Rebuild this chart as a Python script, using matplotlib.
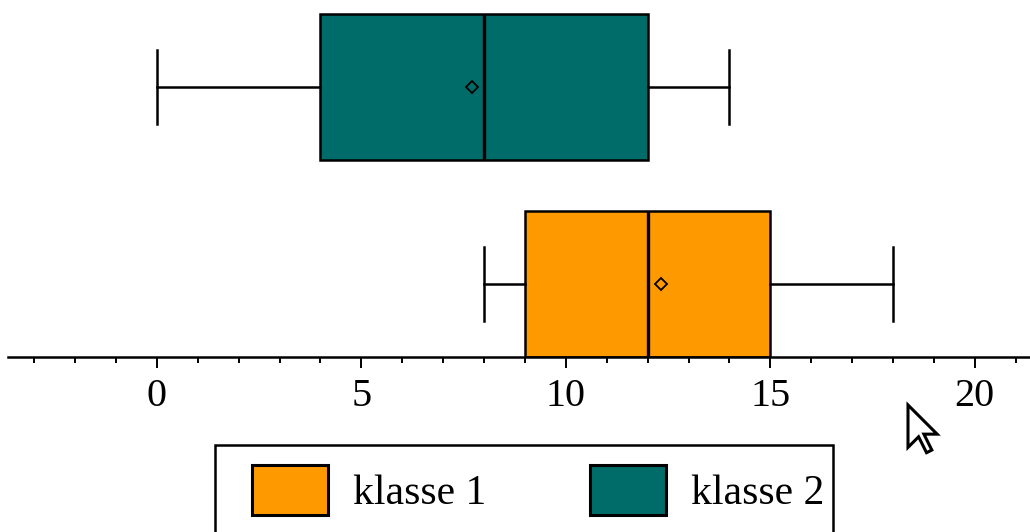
import matplotlib
matplotlib.use("Agg")
import matplotlib.pyplot as plt
from matplotlib.patches import Patch, Polygon, Rectangle
from matplotlib.ticker import MultipleLocator

# Summary statistics for each class
labels = ["klasse 1", "klasse 2"]
whisker_low = [8, 0]
q1 = [9, 4]
medians = [12, 8]
q3 = [15, 12]
whisker_high = [18, 14]
means = [12.32, 7.7]
colors = ["#FF9900", "#006C6A"]

x_ticks = [0, 5, 10, 15, 20]

plt.rcParams["font.family"] = ["Liberation Serif", "DejaVu Serif"]

W, H = 1030, 532
fig = plt.figure(figsize=(W / 100, H / 100), dpi=100)
ax = fig.add_axes([8 / W, (H - 357) / H, 1 - 8 / W, 357 / H])

positions = [1, 2]
stats = []
for i, lab in enumerate(labels):
    stats.append(dict(label=lab, whislo=whisker_low[i], q1=q1[i], med=medians[i],
                      q3=q3[i], whishi=whisker_high[i], mean=means[i], fliers=[]))

bp = ax.bxp(stats, positions=positions, widths=0.741, vert=False, patch_artist=True,
            showmeans=True, showcaps=True,
            boxprops=dict(edgecolor="black", linewidth=1.8),
            whiskerprops=dict(color="black", linewidth=1.8),
            capprops=dict(color="black", linewidth=1.8),
            medianprops=dict(color="black", linewidth=2.4),
            meanprops=dict(marker="D", markersize=6, markerfacecolor="none",
                           markeredgecolor="black", markeredgewidth=1.3))
for patch, c in zip(bp["boxes"], colors):
    patch.set_facecolor(c)
# caps shorter than the box height
for i, cap in enumerate(bp["caps"]):
    pos = positions[i // 2]
    cap.set_ydata([pos - 0.19, pos + 0.19])

ax.set_xlim(-3.64, 21.35)
ax.set_ylim(0.6294, 2.4416)
ax.set_yticks([])
for s in ["top", "right", "left"]:
    ax.spines[s].set_visible(False)
ax.spines["bottom"].set_linewidth(1.8)
ax.spines["bottom"].set_zorder(5)
ax.set_xticks(x_ticks)
ax.xaxis.set_minor_locator(MultipleLocator(1))
ax.tick_params(axis="x", which="major", length=8, width=1.4, pad=7, labelsize=29)
ax.tick_params(axis="x", which="minor", length=4.3, width=1.4)
ax.patch.set_alpha(0)

# legend entries, with its frame drawn separately
handles = [Patch(facecolor=c, edgecolor="black", linewidth=2.2, label=l)
           for c, l in zip(colors, labels)]
leg = fig.legend(handles=handles, loc="upper left",
                 bbox_to_anchor=(252 / W, 1 - 465 / H), ncol=2, fontsize=30,
                 handlelength=1.82, handleheight=1.47, handletextpad=0.6,
                 columnspacing=2.5, borderpad=0, borderaxespad=0,
                 frameon=False)
fig.patches.append(Rectangle((215 / W, -20 / H), (833 - 215) / W, (H + 20 - 445) / H,
                             transform=fig.transFigure, facecolor="none",
                             edgecolor="black", linewidth=1.8))

# mouse pointer drawn in pixel space
tip = (908, 405)
s = 2.65
pts = [(0, 0), (0, 16), (4, 12), (7, 18), (9, 17), (6, 11), (11, 11)]
poly = [((tip[0] + s * px) / W, 1 - (tip[1] + s * py) / H) for px, py in pts]
fig.patches.append(Polygon(poly, closed=True, facecolor="white", edgecolor="black",
                           linewidth=2.2, joinstyle="miter",
                           transform=fig.transFigure, zorder=10))

fig.savefig("out.png", dpi=100)
